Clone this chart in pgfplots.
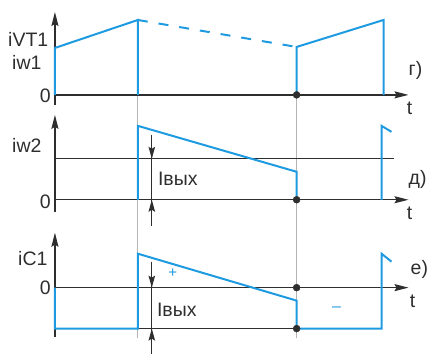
\documentclass[border=0pt]{standalone}
\usepackage{fontspec}
\setmainfont{Liberation Sans}
\usepackage{pgfplots}
\pgfplotsset{compat=1.18}
\usetikzlibrary{arrows.meta}
\definecolor{sig}{HTML}{1E9BE0}
\definecolor{ax}{HTML}{2E2E2E}
\definecolor{guide}{HTML}{B4B4B4}

\begin{document}
\begin{tikzpicture}[lbl/.style={font=\fontsize{19.5}{22}\selectfont,inner sep=0pt,text=ax}]
\begin{axis}[x=1pt,y=1pt,y dir=reverse,
  xmin=0,xmax=428,ymin=0,ymax=354,
  hide axis,clip=false,
  axl/.style={ax,line width=1.4pt,-{Stealth[length=14pt,width=7pt,inset=2pt]}},
  dim/.style={ax,line width=1.2pt,-{Stealth[length=12pt,width=6.5pt,inset=2pt]}},
  wave/.style={sig,line width=2pt,line join=miter}]
% keeps the page at the reference size
\addplot[draw=none] coordinates {(0,0) (428,354)};
% thin guide lines at the switching instants
\addplot[guide,line width=0.8pt] coordinates {(138,20) (138,338)};
\addplot[guide,line width=0.8pt] coordinates {(297,47) (297,338)};

% --- panel г ---
\addplot[axl] coordinates {(55,105) (55,12)};
\addplot[axl] coordinates {(55,95) (409,95)};
% --- panel д ---
\addplot[axl] coordinates {(55,212) (55,115)};
\addplot[axl] coordinates {(55,200) (409,200)};
\addplot[ax,line width=1.3pt] coordinates {(55,159) (394,159)};
% --- panel е ---
\addplot[axl] coordinates {(55,337) (55,233)};
\addplot[axl] coordinates {(55,288) (409,288)};
\addplot[ax,line width=1.3pt] coordinates {(138,329) (297,329)};

% dimension marks for Iвых
\addplot[ax,line width=1.2pt] coordinates {(152,135) (152,226)};
\addplot[dim] coordinates {(152,135) (152,159)};
\addplot[dim] coordinates {(152,226) (152,200)};
\addplot[ax,line width=1.2pt] coordinates {(152,262) (152,354)};
\addplot[dim] coordinates {(152,262) (152,288)};
\addplot[dim] coordinates {(152,354) (152,329)};

% waveforms
\addplot[wave] coordinates {(55,95) (55,48) (138,20) (138,95)};
\addplot[wave,dash pattern=on 10pt off 11pt] coordinates {(138,20) (297,47)};
\addplot[wave] coordinates {(297,95) (297,47) (384,20) (384,95)};
\addplot[wave] coordinates {(138,200) (138,126) (297,172) (297,200)};
\addplot[wave] coordinates {(382,200) (382,126) (392,132)};
\addplot[wave] coordinates {(55,288) (55,329) (138,329) (138,254) (297,301) (297,329) (382,329) (382,254) (392,262)};

% junction dots
\addplot[ax,only marks,mark=*,mark size=3.5pt] coordinates {(297,95) (297,200) (297,288) (297,329)};

% labels
\node[lbl,anchor=base west] at (axis cs:8,47) {iVT1};
\node[lbl,anchor=base west] at (axis cs:12,70) {iw1};
\node[lbl,anchor=base east] at (axis cs:51,103) {0};
\node[lbl,anchor=base] at (axis cs:410,115) {t};
\node[lbl,anchor=base west] at (axis cs:409,76) {г)};

\node[lbl,anchor=base west] at (axis cs:12,153) {iw2};
\node[lbl,anchor=base east] at (axis cs:51,209) {0};
\node[lbl,anchor=base west] at (axis cs:158,186) {Iвых};
\node[lbl,anchor=base] at (axis cs:410,220) {t};
\node[lbl,anchor=base west] at (axis cs:409,185) {д)};

\node[lbl,anchor=base west] at (axis cs:18,266) {iC1};
\node[lbl,anchor=base east] at (axis cs:51,295) {0};
\node[lbl,anchor=base west] at (axis cs:157,317) {Iвых};
\node[lbl,anchor=base] at (axis cs:413,308) {t};
\node[lbl,anchor=base west] at (axis cs:411,275) {е)};
\node[lbl,text=sig,font=\fontsize{15}{17}\selectfont] at (axis cs:173,274) {+};
\node[lbl,text=sig,font=\fontsize{16}{18}\selectfont] at (axis cs:337,310) {\textendash};
\end{axis}
\end{tikzpicture}
\end{document}
